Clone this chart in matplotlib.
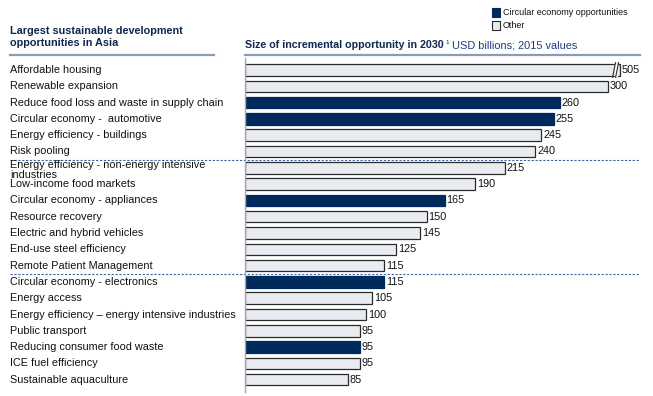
import matplotlib
matplotlib.use("Agg")
import matplotlib.pyplot as plt
from matplotlib.patches import Rectangle
from matplotlib.lines import Line2D
import matplotlib.transforms as mtrans

categories = [
    "Affordable housing",
    "Renewable expansion",
    "Reduce food loss and waste in supply chain",
    "Circular economy -  automotive",
    "Energy efficiency - buildings",
    "Risk pooling",
    "Energy efficiency - non-energy intensive\nindustries",
    "Low-income food markets",
    "Circular economy - appliances",
    "Resource recovery",
    "Electric and hybrid vehicles",
    "End-use steel efficiency",
    "Remote Patient Management",
    "Circular economy - electronics",
    "Energy access",
    "Energy efficiency \u2013 energy intensive industries",
    "Public transport",
    "Reducing consumer food waste",
    "ICE fuel efficiency",
    "Sustainable aquaculture",
]
values = [505, 300, 260, 255, 245, 240, 215, 190, 165, 150, 145, 125, 115,
          115, 105, 100, 95, 95, 95, 85]
circular = [False, False, True, True, False, False, False, False, True, False,
            False, False, False, True, False, False, False, True, False, False]
group_breaks = [5.5, 12.5]
legend_labels = ["Circular economy opportunities", "Other"]

NAVY = "#002A5C"
LIGHT = "#E8ECF1"
EDGE = "#2B2B2B"
TITLE = "#0F2850"
LINE = "#8A9BB5"
DASH = "#3C64A0"

plt.rcParams["font.family"] = ["Liberation Sans", "DejaVu Sans"]
fs = 7.8

W, H = 653, 396
fig = plt.figure(figsize=(W / 100, H / 100), dpi=100)

def fx(px):
    return px / W

def fy(py):
    return 1 - py / H

# axes: left edge at 245 px, right at 653 px; 1.21 px per unit
ax_top, ax_bot = 58, 392
ax = fig.add_axes([fx(245), fy(ax_bot), fx(653 - 245), (ax_bot - ax_top) / H])
xmax = (653 - 245) / 1.21
ax.set_xlim(0, xmax)
row0, step = 70.0, 16.3
ax.set_ylim((ax_bot - row0) / step, (ax_top - row0) / step)

cap = 310
for i, (v, c) in enumerate(zip(values, circular)):
    shown = min(v, cap)
    ax.barh(i, shown, height=0.7, color=NAVY if c else LIGHT,
            edgecolor=NAVY if c else EDGE, linewidth=0.9, zorder=2)
    xlab = shown + 1.5
    if v > cap:
        # break mark
        for dx in (-5.0, -2.5):
            ax.add_line(Line2D([cap + dx - 1.2, cap + dx + 1.2], [i + 0.45, i - 0.45],
                               color=EDGE, lw=0.8, zorder=4))
        ax.add_patch(Rectangle((cap - 4.6, i - 0.36), 1.7, 0.72, color="white", zorder=3))
        xlab = shown + 1.0
    ax.text(xlab, i, str(v), va="center", ha="left", fontsize=fs, color="#111111")

for spine in ["top", "right", "bottom"]:
    ax.spines[spine].set_visible(False)
ax.spines["left"].set_color("#A8A8A8")
ax.spines["left"].set_linewidth(1.0)
ax.set_xticks([])
ax.set_yticks([])

# category labels
blend = mtrans.blended_transform_factory(fig.transFigure, ax.transData)
for i, name in enumerate(categories):
    multi = "\n" in name
    ax.text(fx(10), i + (0.12 if multi else 0), name, transform=blend, va="center",
            ha="left", fontsize=fs, color="#111111",
            linespacing=0.95 if multi else 1.0, clip_on=False)

# dashed separators
for yb in group_breaks:
    ax.add_line(Line2D([fx(10), fx(640)], [yb, yb], transform=blend, color=DASH,
                       lw=0.8, ls=(0, (2, 1.5)), clip_on=False))

# header lines
fig.add_artist(Line2D([fx(10), fx(214)], [fy(55), fy(55)], color=LINE, lw=1.6))
fig.add_artist(Line2D([fx(245), fx(640)], [fy(55), fy(55)], color=LINE, lw=1.6))

# title
fig.text(fx(10), fy(37), "Largest sustainable development\nopportunities in Asia",
         fontsize=7.8, fontweight="bold", color=TITLE, va="center", ha="left",
         linespacing=1.25)

# subtitle
t1 = fig.text(fx(245), fy(45), "Size of incremental opportunity in 2030",
              fontsize=7.7, fontweight="bold", color=TITLE, va="center", ha="left")
r = fig.canvas.get_renderer()
bb = t1.get_window_extent(r)
t2 = fig.text(bb.x1 / W + 0.002, fy(43), "1", fontsize=4.5, color=TITLE,
              va="center", ha="left")
bb2 = t2.get_window_extent(r)
fig.text(bb2.x1 / W + 0.005, fy(45), "USD billions; 2015 values",
         fontsize=7.9, color="#1F3F7A", va="center", ha="left")

# legend
fig.add_artist(Rectangle((fx(492), fy(17)), 8 / W, 9 / H, transform=fig.transFigure,
                         facecolor=NAVY, edgecolor=NAVY, lw=0.8))
fig.add_artist(Rectangle((fx(492), fy(30)), 8 / W, 9 / H, transform=fig.transFigure,
                         facecolor=LIGHT, edgecolor=EDGE, lw=0.8))
fig.text(fx(503), fy(12.5), legend_labels[0], fontsize=6.5, color="#111111",
         va="center", ha="left")
fig.text(fx(503), fy(25.5), legend_labels[1], fontsize=6.5, color="#111111",
         va="center", ha="left")

fig.savefig("out.png", dpi=100)
